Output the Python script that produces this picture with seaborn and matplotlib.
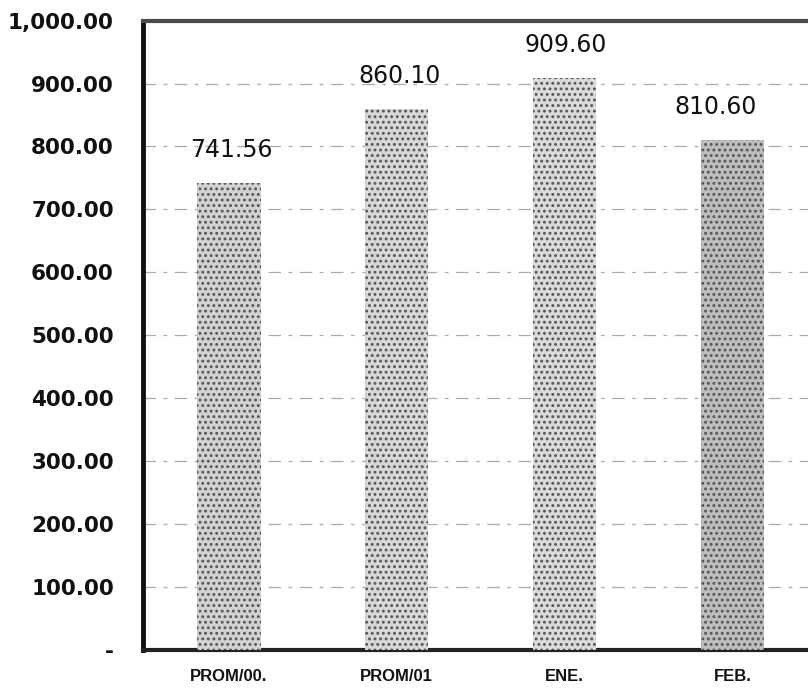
import matplotlib
matplotlib.use('Agg')
import matplotlib.pyplot as plt
from matplotlib.ticker import FuncFormatter, MultipleLocator
import seaborn as sns

categorias = ['PROM/00.', 'PROM/01', 'ENE.', 'FEB.']
valores = [741.56, 860.10, 909.60, 810.60]
tonos = ['#d2d2d2', '#d8d8d8', '#dadada', '#bdbdbd']
# small horizontal shifts of the value labels (points), as in the scan
desplaz = [2, 2, 1, -12]

sns.set_style('white')
plt.rcParams['font.family'] = ['DejaVu Sans']
plt.rcParams['hatch.linewidth'] = 1.3

fig = plt.figure(figsize=(8.08, 6.91), dpi=100)
ax = fig.add_axes([0.177, 0.06, 0.823, 0.91])

sns.barplot(x=categorias, y=valores, width=0.38, ax=ax, zorder=3)
for bar, tono in zip(ax.patches, tonos):
    bar.set_facecolor(tono)
    bar.set_edgecolor('#555555')
    bar.set_linewidth(0)
    bar.set_hatch('...')

for i, v in enumerate(valores):
    ax.annotate(f'{v:,.2f}', (i, v), xytext=(desplaz[i], 15), textcoords='offset points',
                ha='center', va='bottom', fontsize=17, color='#111111')

ax.set_ylim(0, 1000)
ax.set_xlim(-0.51, 3.45)
ax.yaxis.set_major_locator(MultipleLocator(100))
ax.yaxis.set_major_formatter(FuncFormatter(lambda v, p: '-' if v == 0 else f'{v:,.2f}'))
ax.grid(axis='y', color='#ababab', linewidth=0.9, linestyle=(0, (10, 6, 3, 6)), zorder=0)
ax.set_axisbelow(True)

ax.tick_params(axis='y', length=0, pad=21, labelsize=15.5)
ax.tick_params(axis='x', length=0, pad=14, labelsize=12)
for lab in ax.get_yticklabels():
    lab.set_fontweight('bold')
    lab.set_color('#111111')
for lab in ax.get_xticklabels():
    lab.set_family('Liberation Sans')
    lab.set_fontweight('bold')
    lab.set_color('#111111')

ax.spines['left'].set_linewidth(3.5)
ax.spines['left'].set_color('#111111')
ax.spines['bottom'].set_linewidth(3.0)
ax.spines['bottom'].set_color('#222222')
ax.spines['top'].set_linewidth(3.0)
ax.spines['top'].set_color('#4a4a4a')
ax.spines['right'].set_visible(False)
ax.set_xlabel('')
ax.set_ylabel('')

fig.savefig('out.png', dpi=100)
